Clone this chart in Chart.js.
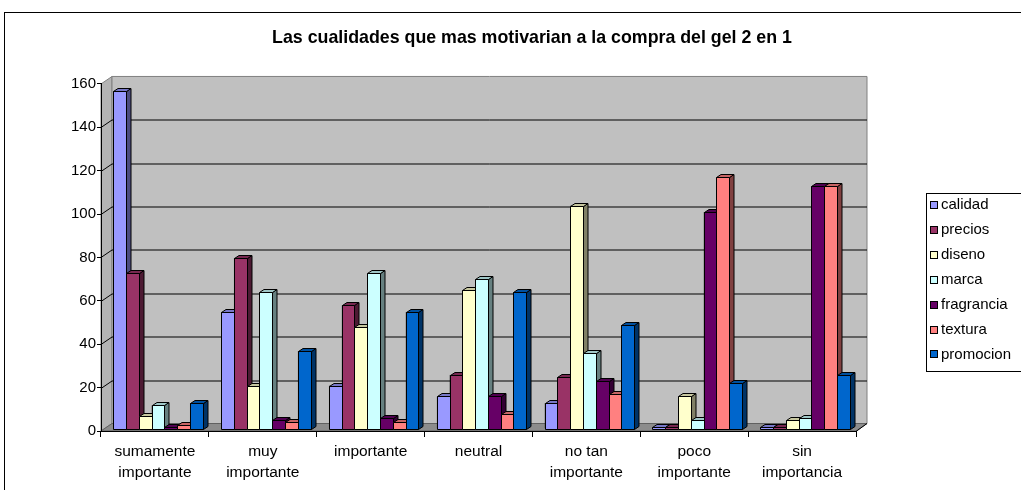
<!DOCTYPE html>
<html>
<head>
<meta charset="utf-8">
<script src="https://cdn.jsdelivr.net/npm/chart.js@4.4.1/dist/chart.umd.min.js"></script>
<style>
  html, body { margin: 0; padding: 0; background: #fff; overflow: hidden; }
  #frame { position: absolute; left: 4px; top: 12px; width: 1100px; height: 600px; border: 1px solid #000; }
  #c { position: absolute; left: 0; top: 0; }
</style>
</head>
<body>
<div id="frame"></div>
<canvas id="c" width="1064" height="490"></canvas>
<script>
// categorias del eje x
const categorias = [
  ["sumamente", "importante"],
  ["muy", "importante"],
  "importante",
  "neutral",
  ["no tan", "importante"],
  ["poco", "importante"],
  ["sin", "importancia"]
];

const calidad    = [156, 54, 20, 15, 12, 1, 1];
const precios    = [72, 79, 57, 25, 24, 1, 1];
const diseno     = [6, 20, 47, 64, 103, 15, 4];
const marca      = [11, 63, 72, 69, 35, 4, 5];
const fragrancia = [1, 4, 5, 15, 22, 100, 112];
const textura    = [2, 3, 3, 7, 16, 116, 112];
const promocion  = [12, 36, 54, 63, 48, 21, 25];

const yTicks = [0, 20, 40, 60, 80, 100, 120, 140, 160];

const FONT = "'Liberation Sans', Arial, sans-serif";
const DX = 11, DY = -7.5;   // profundidad de las paredes
const BDX = 4.5, BDY = -3;  // profundidad de las barras
const OX = 3, OY = -2;      // las barras estan un poco detras del plano frontal

function shade(hex, f) {
  const n = parseInt(hex.slice(1), 16);
  const r = Math.round(((n >> 16) & 255) * f);
  const g = Math.round(((n >> 8) & 255) * f);
  const b = Math.round((n & 255) * f);
  return `rgb(${r},${g},${b})`;
}

function poly(ctx, pts, fill, stroke) {
  ctx.beginPath();
  ctx.moveTo(pts[0][0], pts[0][1]);
  for (let i = 1; i < pts.length; i++) ctx.lineTo(pts[i][0], pts[i][1]);
  ctx.closePath();
  if (fill) { ctx.fillStyle = fill; ctx.fill(); }
  if (stroke) { ctx.strokeStyle = stroke; ctx.lineWidth = 1; ctx.stroke(); }
}

// paredes y piso en 3D
const walls = {
  id: 'walls',
  beforeDraw(chart) {
    const ctx = chart.ctx;
    const { left, right, top, bottom } = chart.chartArea;
    const ys = chart.scales.y;
    ctx.save();
    poly(ctx, [[left, top], [left + DX, top + DY], [left + DX, bottom + DY], [left, bottom]], '#b4b4b4', '#808080');
    poly(ctx, [[left + DX, top + DY], [right + DX, top + DY], [right + DX, bottom + DY], [left + DX, bottom + DY]], '#c0c0c0', '#808080');
    ctx.lineWidth = 1;
    yTicks.forEach(v => {
      if (v === 0 || v === 160) return;
      const py = Math.round(ys.getPixelForValue(v)) + 0.5;
      ctx.strokeStyle = '#000';
      ctx.beginPath();
      ctx.moveTo(left, py);
      ctx.lineTo(left + DX, py + DY);
      ctx.lineTo(right + DX, py + DY);
      ctx.stroke();
    });
    poly(ctx, [[left, bottom], [right, bottom], [right + DX, bottom + DY], [left + DX, bottom + DY]], '#8c8c8c', '#606060');
    ctx.strokeStyle = '#000';
    ctx.beginPath();
    ctx.moveTo(right, bottom + 0.5);
    ctx.lineTo(right + DX, bottom + DY);
    ctx.stroke();
    ctx.restore();
  }
};

// barras con caras laterales y superiores
const bars3d = {
  id: 'bars3d',
  beforeDatasetsDraw(chart) {
    chart.ctx.save();
    chart.ctx.translate(OX, OY);
  },
  afterDatasetsDraw(chart) {
    const ctx = chart.ctx;
    ctx.lineWidth = 1;
    chart.data.datasets.forEach((ds, i) => {
      const meta = chart.getDatasetMeta(i);
      meta.data.forEach(el => {
        const l = Math.round(el.x - el.width / 2) + 0.5;
        const r = Math.round(el.x + el.width / 2) + 0.5;
        const t = Math.round(el.y) + 0.5;
        const b = Math.round(el.base) + 0.5;
        const c = ds.backgroundColor;
        poly(ctx, [[r, t], [r + BDX, t + BDY], [r + BDX, b + BDY], [r, b]], shade(c, 0.5), '#000');
        poly(ctx, [[l, t], [r, t], [r + BDX, t + BDY], [l + BDX, t + BDY]], shade(c, 0.78), '#000');
        poly(ctx, [[l, t], [r, t], [r, b], [l, b]], c, '#000');
      });
    });
    ctx.restore();
  }
};

// leyenda con recuadro
const cajaLeyenda = {
  id: 'cajaLeyenda',
  afterDraw(chart) {
    const ctx = chart.ctx;
    ctx.save();
    ctx.fillStyle = '#fff';
    ctx.strokeStyle = '#000';
    ctx.lineWidth = 1;
    ctx.fillRect(926.5, 193.5, 130, 178);
    ctx.strokeRect(926.5, 193.5, 130, 178);
    ctx.font = '15px ' + FONT;
    ctx.textBaseline = 'middle';
    chart.data.datasets.forEach((ds, i) => {
      const cy = 205 + i * 24.9;
      ctx.fillStyle = ds.backgroundColor;
      ctx.fillRect(930.5, Math.round(cy - 4) + 0.5, 7, 7);
      ctx.strokeRect(930.5, Math.round(cy - 4) + 0.5, 7, 7);
      ctx.fillStyle = '#000';
      ctx.fillText(ds.label, 941, cy);
    });
    ctx.restore();
  }
};

const series = [
  ['calidad', calidad, '#9999FF'],
  ['precios', precios, '#993366'],
  ['diseno', diseno, '#FFFFCC'],
  ['marca', marca, '#CCFFFF'],
  ['fragrancia', fragrancia, '#660066'],
  ['textura', textura, '#FF8080'],
  ['promocion', promocion, '#0066CC']
];

new Chart(document.getElementById('c'), {
  type: 'bar',
  data: {
    labels: categorias,
    datasets: series.map(s => ({
      label: s[0],
      data: s[1],
      backgroundColor: s[2],
      borderColor: '#000',
      borderWidth: 1,
      categoryPercentage: 0.83,
      barPercentage: 1.0
    }))
  },
  options: {
    responsive: false,
    animation: false,
    layout: { padding: 0 },
    plugins: {
      legend: { display: false },
      tooltip: { enabled: false },
      title: {
        display: true,
        text: 'Las cualidades que mas motivarian a la compra del gel 2 en 1',
        color: '#000',
        font: { family: FONT, size: 17.8, weight: 'bold', lineHeight: 1.2 },
        padding: { top: 27.5, bottom: 35.1 }
      }
    },
    scales: {
      x: {
        afterFit(s) { s.height = 59; },
        grid: { display: true, drawOnChartArea: false, color: '#000', tickLength: 6, offset: true },
        border: { color: '#000' },
        ticks: {
          color: '#000',
          padding: 5,
          maxRotation: 0,
          autoSkip: false,
          font: { family: FONT, size: 15.5, lineHeight: 1.3 }
        }
      },
      y: {
        min: 0,
        max: 160,
        afterFit(s) { s.width = 101; },
        afterBuildTicks(s) { s.ticks = yTicks.map(v => ({ value: v })); },
        grid: { display: true, drawOnChartArea: false, color: '#000', tickLength: 4 },
        border: { color: '#000' },
        ticks: {
          color: '#000',
          padding: 1,
          font: { family: FONT, size: 15 }
        }
      },
      // espacio reservado para la leyenda
      espacio: {
        type: 'linear',
        position: 'right',
        afterFit(s) { s.width = 208; },
        grid: { display: false },
        border: { display: false },
        ticks: { display: false }
      }
    }
  },
  plugins: [walls, bars3d, cajaLeyenda]
});
</script>
</body>
</html>
